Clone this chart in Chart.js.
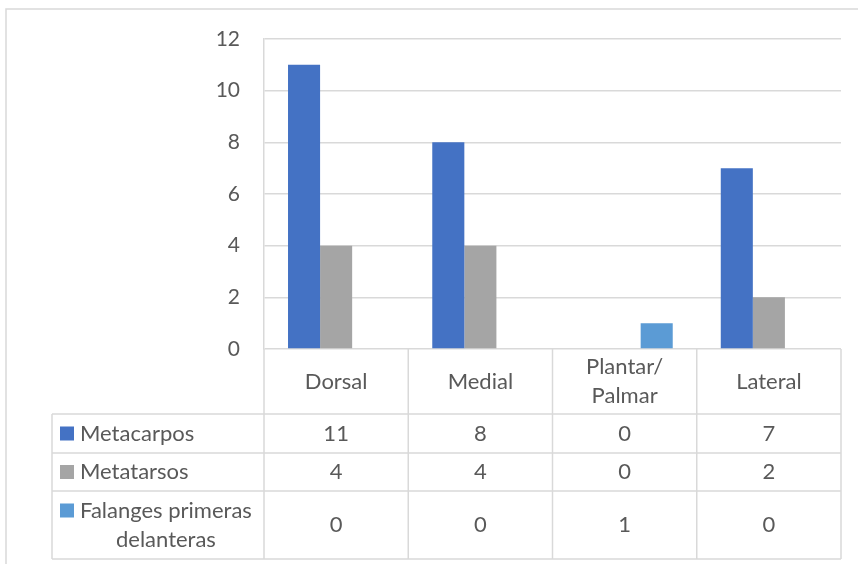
<!DOCTYPE html>
<html lang="es">
<head>
    <meta charset="UTF-8">
    <title>Metacarpos / Metatarsos</title>
    <script src="https://cdn.jsdelivr.net/npm/chart.js"></script>
    <style>
        body { margin: 0; background: #fff; }
    </style>
</head>
<body>
    <canvas id="grafico" width="858" height="564"></canvas>

<script>
    // datos
    const categorias = ['Dorsal', 'Medial', ['Plantar/', 'Palmar'], 'Lateral'];
    const metacarpos = [11, 8, 0, 7];
    const metatarsos = [4, 4, 0, 2];
    const falanges = [0, 0, 1, 0];
    const nombresSeries = ['Metacarpos', 'Metatarsos', ['Falanges primeras', 'delanteras']];
    const coloresSeries = ['#4472C4', '#A5A5A5', '#5B9BD5'];
    const ticksY = [0, 2, 4, 6, 8, 10, 12];

    const gris = '#d9d9d9';
    const colorTexto = '#595959';
    const fuente = '22px Lato';

    // tabla de datos debajo del grafico (como en Excel)
    const tablaDatos = {
        id: 'tablaDatos',
        afterDraw(chart) {
            const ctx = chart.ctx;
            const x = chart.scales.x;
            const area = chart.chartArea;
            const filas = [area.bottom, 414, 453, 491, 559];
            const izq = 52;
            const textoIzq = 80;

            const bordes = [x.left];
            for (let i = 1; i < categorias.length; i++) {
                bordes.push((x.getPixelForValue(i - 1) + x.getPixelForValue(i)) / 2);
            }
            bordes.push(x.right);

            ctx.save();
            ctx.strokeStyle = gris;
            ctx.lineWidth = 1.5;
            ctx.beginPath();
            bordes.forEach(b => { ctx.moveTo(b, filas[0]); ctx.lineTo(b, filas[4]); });
            for (let r = 1; r < filas.length; r++) {
                ctx.moveTo(izq, filas[r]); ctx.lineTo(x.right, filas[r]);
            }
            ctx.moveTo(izq, filas[1]); ctx.lineTo(izq, filas[4]);
            // marco del grafico
            ctx.moveTo(6, 900); ctx.lineTo(6, 9); ctx.lineTo(900, 9);
            ctx.stroke();

            ctx.font = fuente;
            ctx.fillStyle = colorTexto;
            ctx.textAlign = 'center';
            ctx.textBaseline = 'middle';
            const alto = 29;

            // encabezado de categorias
            categorias.forEach((c, i) => {
                const lineas = Array.isArray(c) ? c : [c];
                const cy = (filas[0] + filas[1]) / 2;
                const cx = x.getPixelForValue(i);
                lineas.forEach((l, k) => {
                    ctx.fillText(l, cx, cy + (k - (lineas.length - 1) / 2) * alto);
                });
            });

            const valores = [metacarpos, metatarsos, falanges];
            valores.forEach((serie, s) => {
                const cy = (filas[s + 1] + filas[s + 2]) / 2;
                const lineas = Array.isArray(nombresSeries[s]) ? nombresSeries[s] : [nombresSeries[s]];
                const anchoMax = Math.max(...lineas.map(l => ctx.measureText(l).width));
                const y0 = cy - (lineas.length - 1) / 2 * alto;
                ctx.fillStyle = coloresSeries[s];
                ctx.fillRect(60, y0 - 7, 14, 14);
                ctx.fillStyle = colorTexto;
                lineas.forEach((l, k) => {
                    ctx.fillText(l, textoIzq + anchoMax / 2, y0 + k * alto);
                });
                serie.forEach((v, i) => {
                    ctx.fillText(String(v), x.getPixelForValue(i), cy);
                });
            });
            ctx.restore();
        }
    };

    const ctx1 = document.getElementById('grafico').getContext('2d');
    const grafico = new Chart(ctx1, {
        type: 'bar',
        data: {
            labels: categorias,
            datasets: [
                { label: 'Metacarpos', data: metacarpos, backgroundColor: coloresSeries[0] },
                { label: 'Metatarsos', data: metatarsos, backgroundColor: coloresSeries[1] },
                { label: 'Falanges primeras delanteras', data: falanges, backgroundColor: coloresSeries[2] }
            ]
        },
        options: {
            responsive: false,
            animation: false,
            categoryPercentage: 0.667,
            barPercentage: 1.0,
            layout: { padding: { left: 0, right: 17, top: 39, bottom: 215 } },
            plugins: {
                legend: { display: false },
                tooltip: { enabled: false }
            },
            scales: {
                x: { display: false },
                y: {
                    min: 0,
                    max: 12,
                    afterBuildTicks: s => { s.ticks = ticksY.map(v => ({ value: v })); },
                    afterFit: s => { s.width = 264; },
                    ticks: { color: colorTexto, font: { family: 'Lato', size: 21 }, padding: 24 },
                    grid: { color: gris, lineWidth: 1.5, drawTicks: false },
                    border: { color: gris, width: 1.5 }
                }
            }
        },
        plugins: [tablaDatos]
    });
</script>
</body>
</html>
